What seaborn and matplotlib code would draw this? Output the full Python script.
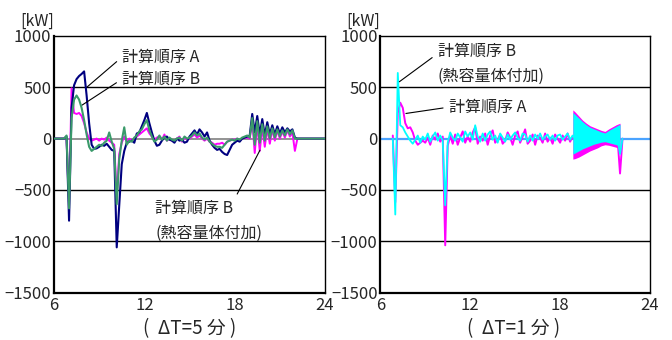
import numpy as np
import pandas as pd
import matplotlib
matplotlib.use('Agg')
import matplotlib.pyplot as plt
import seaborn as sns

# ---------------- data ----------------
# 10-minute sampling grid, 6:00 .. 24:00
hours = np.round(np.arange(6, 24 + 1e-9, 1 / 6), 4)

# left panel (dT = 5 min)
left_A = [0, 0, 0, 0, 0, 20,
          -800, 300, 520, 580, 610, 630,
          655, 420, 150, -60, -100, -95,
          -80, -60, -70, -50, -80, -110,
          -120, -1060, -650, -250, -120, -40,
          -30, -20, -40, 50, 60, 120,
          180, 250, 150, 60, -20, -70,
          -60, -20, 10, 20, -10, -20,
          -40, 0, -20, -10, -40, -30,
          20, 50, 80, 40, 90, 60,
          20, 60, -20, -60, -90, -110,
          -100, -130, -150, -160, -110, -60,
          -40, -20, -30, 0, 10, 20,
          30, 240, 60, 220, 40, 190,
          30, 160, 40, 130, 40, 120,
          50, 110, 60, 100, 70, 90,
          10, 0, 0, 0, 0, 0,
          0, 0, 0, 0, 0, 0,
          0]
left_B = [0, 0, 0, 0, 0, 30,
          -680, 200, 380, 420, 380, 300,
          180, 40, -80, -120, -100, -80,
          -60, -70, -40, -20, 60, -30,
          -100, -640, -200, -20, 110, -60,
          -20, -30, 10, 30, 70, 90,
          140, 180, 80, 20, -30, -10,
          30, -10, 20, -20, 10, -10,
          -20, 0, 10, -20, 20, 0,
          10, 30, 60, 30, 50, 10,
          -10, 10, -30, -50, -70, -80,
          -80, -90, -60, -30, -20, -10,
          -20, 0, -10, 10, 20, 30,
          10, 200, -60, 170, -40, 140,
          -20, 120, 0, 100, 10, 90,
          20, 80, 30, 90, 40, 80,
          0, 0, 0, 0, 0, 0,
          0, 0, 0, 0, 0, 0,
          0]
left_Bh = [0, 0, 0, 0, 0, 0,
           -650, 490, 250, 240, 250, 220,
           150, 60, 0, -20, -10, 0,
           -20, 0, -10, 10, -20, -40,
           -60, -560, -150, -40, 20, -30,
           0, -20, 0, 20, 40, 60,
           80, 100, 50, 20, -10, 10,
           20, -10, 40, -20, 0, -20,
           -30, 0, 20, -30, 10, -10,
           0, 20, 40, 10, 30, 0,
           -20, 0, -30, -40, -60, -50,
           -50, -40, -60, -30, -20, -10,
           -10, 0, -20, 0, 10, 10,
           0, 180, -140, 140, -120, 110,
           -80, 100, -50, 90, -20, 80,
           0, 70, 10, 80, 20, 60,
           -120, 0, 0, 0, 0, 0,
           0, 0, 0, 0, 0, 0,
           0]

# right panel (dT = 1 min)
right_A = [0, 0, 0, 0, 0, 30,
           -620, 250, 350, 300, 150, 100,
           110, 60, -20, -60, -40, -20,
           -40, 10, -60, 30, -10, 50,
           -30, 20, -1040, -70, 30, -50,
           40, -60, 10, 70, -40, 20,
           -30, 60, 110, -50, 20, -20,
           50, -60, 30, 80, -40, -10,
           40, -50, -20, 60, 10, -60,
           30, 70, -40, 20, 90, -50,
           -20, 40, -60, 30, 10, -40,
           50, -30, 10, -50, 40, 0,
           -40, 30, -20, 50, -30, 20,
           0, 0, 0, 0, 0, 0,
           0, 0, 0, 0, 0, 0,
           0, 0, 0, 0, 0, 0,
           -340, 0, 0, 0, 0, 0,
           0, 0, 0, 0, 0, 0,
           0]
right_Bh = [0, 0, 0, 0, 0, 0,
            -740, 640, 130, 110, 60, 20,
            -20, -50, -10, 30, -40, 20,
            -10, 50, -30, 20, 60, -20,
            30, -20, -650, -40, 60, 10,
            -20, 50, 10, -30, 70, 20,
            60, -10, 130, 20, -30, 50,
            -20, 40, 70, -10, 30, -40,
            50, 10, -30, 40, -10, 30,
            60, 10, -20, 50, 40, -30,
            30, -20, 40, 0, 50, -10,
            20, 40, -10, 30, -20, 30,
            40, -10, 20, 50, -10, 30,
            0, 0, 0, 0, 0, 0,
            0, 0, 0, 0, 0, 0,
            0, 0, 0, 0, 0, 0,
            -150, 0, 0, 0, 0, 0,
            0, 0, 0, 0, 0, 0,
            0]

# dense oscillation envelope (right panel, 19h-22h)
band_hours = [18.85, 19.0, 19.25, 19.5, 19.75, 20.0, 20.25, 20.5, 20.75, 21.0, 21.25, 21.5, 21.75, 22.0]
band_A_hi = [280, 260, 220, 180, 150, 125, 110, 95, 80, 70, 95, 115, 135, 150]
band_A_lo = [-200, -195, -180, -160, -140, -120, -105, -90, -70, -60, -65, -75, -85, -100]
band_Bh_hi = [255, 235, 200, 165, 135, 110, 95, 80, 65, 55, 80, 100, 120, 140]
band_Bh_lo = [-150, -140, -120, -100, -85, -70, -55, -45, -35, -30, -40, -50, -60, -75]

x_ticks = [6, 12, 18, 24]
x_minor = [9, 15, 21]
y_ticks = [-1500, -1000, -500, 0, 500, 1000]

C_NAVY = '#000080'
C_GREEN = '#3a9a6a'
C_PINK = '#ff00ff'
C_CYAN = '#00ffff'
C_ZERO_R = '#4aa3ff'

# ---------------- plotting ----------------
sns.set_style('white')
plt.rcParams['font.family'] = ['Noto Sans CJK JP', 'DejaVu Sans']

W, H = 672, 340
fig = plt.figure(figsize=(W / 100, H / 100), dpi=100)
ax1 = fig.add_axes([54 / W, 1 - 292.5 / H, 271 / W, 256.5 / H])
ax2 = fig.add_axes([380.3 / W, 1 - 292.5 / H, 269.7 / W, 256.5 / H])

dfL = pd.DataFrame({'h': hours, 'A': left_A, 'B': left_B, 'Bh': left_Bh})
dfR = pd.DataFrame({'h': hours, 'A': right_A, 'Bh': right_Bh})
dfR = dfR[(dfR.h > 6.8) & (dfR.h < 22.2)]


def style(ax):
    ax.set_xlim(6, 24)
    ax.set_ylim(-1500, 1000)
    ax.set_xticks(x_ticks)
    ax.set_xticks(x_minor, minor=True)
    ax.set_xticklabels([str(v) for v in x_ticks])
    ax.set_yticks(y_ticks)
    ax.set_yticklabels([str(v).replace('-', '\u2212') for v in y_ticks])
    ax.tick_params(axis='x', which='both', direction='in', length=6, width=1,
                   pad=3, labelsize=12, color='black')
    ax.tick_params(axis='y', length=0, pad=2, labelsize=12)
    for v in [500, -500, -1000]:
        ax.axhline(v, color='black', lw=1.0, zorder=1)
    for s in ['left', 'bottom']:
        ax.spines[s].set_linewidth(1.6)
        ax.spines[s].set_color('black')
    for s in ['top', 'right']:
        ax.spines[s].set_linewidth(1.0)
        ax.spines[s].set_color('black')
    ax.set_xlabel('')
    ax.set_ylabel('')


# left
ax1.axhline(0, color='#808080', lw=1.2, zorder=1)
sns.lineplot(data=dfL, x='h', y='Bh', ax=ax1, color=C_PINK, lw=1.4, estimator=None, zorder=2)
sns.lineplot(data=dfL, x='h', y='A', ax=ax1, color=C_NAVY, lw=1.5, estimator=None, zorder=3)
sns.lineplot(data=dfL, x='h', y='B', ax=ax1, color=C_GREEN, lw=1.5, estimator=None, zorder=4)
style(ax1)

# right
ax2.axhline(0, color=C_ZERO_R, lw=1.6, zorder=1)
sns.lineplot(data=dfR, x='h', y='A', ax=ax2, color=C_PINK, lw=1.4, estimator=None, zorder=2)
ax2.fill_between(band_hours, band_A_lo, band_A_hi, color=C_PINK, lw=0, zorder=2)
sns.lineplot(data=dfR, x='h', y='Bh', ax=ax2, color=C_CYAN, lw=1.3, estimator=None, zorder=3)
ax2.fill_between(band_hours, band_Bh_lo, band_Bh_hi, color=C_CYAN, lw=0, zorder=3)
style(ax2)

fs = 11.5
arrow = dict(arrowstyle='-', color='black', lw=0.8, shrinkA=2, shrinkB=0)

ax1.annotate('計算順序 A', xy=(8.19, 502), xytext=(10.52, 795), fontsize=fs,
             ha='left', va='center', arrowprops=dict(arrow, relpos=(0, 0.5)))
ax1.annotate('計算順序 B', xy=(7.86, 326), xytext=(10.52, 580), fontsize=fs,
             ha='left', va='center', arrowprops=dict(arrow, relpos=(0, 0.5)))
ax1.annotate('計算順序 B\n(熱容量体付加)', xy=(19.68, -113), xytext=(12.71, -800),
             fontsize=fs, ha='left', va='center', linespacing=1.6,
             arrowprops=dict(arrow, relpos=(0.74, 1.0)))

ax2.annotate('計算順序 B\n(熱容量体付加)', xy=(7.27, 554), xytext=(9.83, 727),
             fontsize=fs, ha='left', va='center', linespacing=1.6,
             arrowprops=dict(arrow, relpos=(0, 0.75)))
ax2.annotate('計算順序 A', xy=(7.71, 245), xytext=(10.59, 307), fontsize=fs,
             ha='left', va='center', arrowprops=dict(arrow, relpos=(0, 0.5)))

fig.text(37 / W, 1 - 21 / H, '[kW]', fontsize=11.5, ha='center', va='center')
fig.text(363 / W, 1 - 21 / H, '[kW]', fontsize=11.5, ha='center', va='center')
fig.text(190 / W, 1 - 329 / H, '(  ΔT=5 分 )', fontsize=13.5, ha='center', va='center')
fig.text(514 / W, 1 - 329 / H, '(  ΔT=1 分 )', fontsize=13.5, ha='center', va='center')

fig.savefig('out.png', dpi=100, facecolor='white')
